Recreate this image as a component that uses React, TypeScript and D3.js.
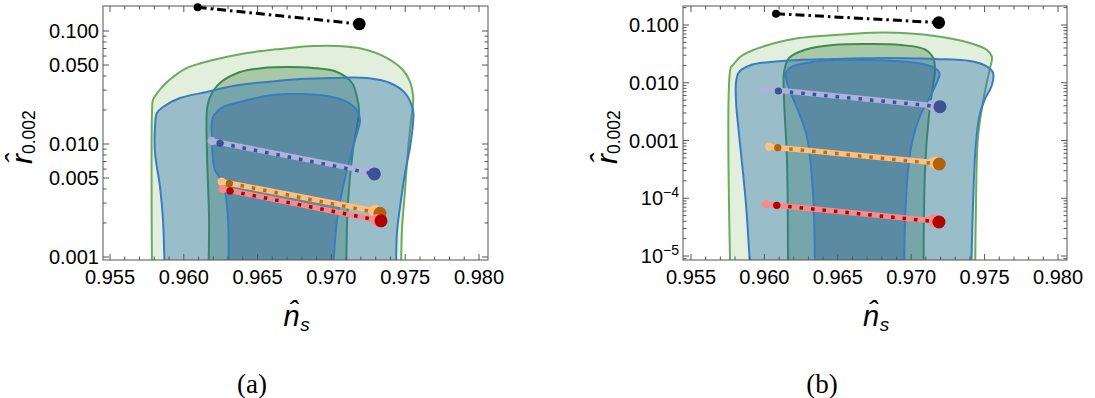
import React from "react";
import * as d3 from "d3";

// ---------- axis ticks ----------
const xMajor = [0.955, 0.96, 0.965, 0.97, 0.975, 0.98];
const xMajorLabels = ["0.955", "0.960", "0.965", "0.970", "0.975", "0.980"];
const yMajorA = [0.001, 0.005, 0.01, 0.05, 0.1];
const yLabelsA = ["0.001", "0.005", "0.010", "0.050", "0.100"];
const yMajorB = [1e-5, 1e-4, 1e-3, 1e-2, 1e-1];
const yLabelsB: [string, string][] = [["10", "−5"], ["10", "−4"], ["0.001", ""], ["0.010", ""], ["0.100", ""]];

// ---------- contours: [n_s, log10 r], from bottom-left, over the top, to bottom-right ----------
const aOuterGreen: [number, number][] = [
  [0.95785, -3.3], [0.95785, -1.699], [0.95791, -1.611], [0.95825, -1.54], [0.95873, -1.469], [0.95927, -1.407],
  [0.96022, -1.327], [0.96198, -1.257], [0.96428, -1.195], [0.96652, -1.159], [0.96875, -1.133], [0.97038, -1.133],
  [0.97214, -1.159], [0.97377, -1.239], [0.97485, -1.345], [0.97533, -1.451], [0.97553, -1.566], [0.97553, -1.655],
  [0.9754, -1.788], [0.97519, -2.053], [0.97499, -2.407], [0.97478, -2.761], [0.97472, -3.3],
];
const aInnerGreen: [number, number][] = [
  [0.96164, -3.3], [0.96171, -2.673], [0.96157, -2.08], [0.96157, -1.699], [0.96178, -1.584], [0.96245, -1.46],
  [0.96381, -1.363], [0.96537, -1.327], [0.96699, -1.319], [0.96875, -1.327], [0.97038, -1.363], [0.9714, -1.46],
  [0.97173, -1.584], [0.97187, -1.699], [0.97173, -1.85], [0.97146, -2.053], [0.97112, -2.522], [0.97099, -3.3],
];
const aOuterBlue: [number, number][] = [
  [0.95873, -3.3], [0.95859, -2.673], [0.95839, -2.381], [0.95805, -2.08], [0.95805, -1.85], [0.95818, -1.726],
  [0.95859, -1.673], [0.95974, -1.593], [0.96157, -1.54], [0.96333, -1.487], [0.96564, -1.451], [0.96787, -1.425],
  [0.97011, -1.416], [0.97241, -1.416], [0.97397, -1.46], [0.97499, -1.549], [0.97553, -1.699], [0.97553, -1.814],
  [0.97533, -2.027], [0.97499, -2.257], [0.97465, -2.558], [0.97444, -2.788], [0.97438, -3.3],
];
const aInnerBlue: [number, number][] = [
  [0.96299, -3.3], [0.96299, -2.646], [0.96266, -2.345], [0.96211, -2.23], [0.96191, -1.938], [0.96198, -1.761],
  [0.96266, -1.673], [0.96381, -1.628], [0.96604, -1.566], [0.96787, -1.557], [0.9697, -1.575], [0.97106, -1.628],
  [0.9718, -1.717], [0.97194, -1.788], [0.97146, -2.027], [0.97079, -2.381], [0.97038, -2.673], [0.97004, -3.3],
];

const bOuterGreen: [number, number][] = [
  [0.9577, -5.5], [0.9577, -1.745], [0.95786, -1.693], [0.95834, -1.554], [0.95909, -1.45], [0.96072, -1.312],
  [0.96236, -1.225], [0.96583, -1.156], [0.96815, -1.13], [0.97162, -1.19], [0.97401, -1.312], [0.97516, -1.433],
  [0.9755, -1.554], [0.97537, -1.745], [0.97516, -1.987], [0.97489, -2.333], [0.97455, -2.939], [0.97441, -4.117],
  [0.97435, -5.5],
];
const bInnerGreen: [number, number][] = [
  [0.96161, -5.5], [0.96154, -3.338], [0.96134, -2.299], [0.96134, -1.814], [0.96168, -1.571], [0.96283, -1.424],
  [0.96467, -1.346], [0.96699, -1.329], [0.96931, -1.346], [0.97094, -1.424], [0.97149, -1.571], [0.97162, -1.745],
  [0.97149, -2.039], [0.97121, -2.558], [0.97094, -3.511], [0.97084, -5.5],
];
const bOuterBlue: [number, number][] = [
  [0.95909, -5.5], [0.95875, -4.117], [0.95841, -3.234], [0.95817, -2.645], [0.95807, -2.333], [0.95807, -1.987],
  [0.95827, -1.814], [0.95909, -1.693], [0.9612, -1.623], [0.96467, -1.589], [0.96815, -1.571], [0.97162, -1.589],
  [0.97401, -1.623], [0.97503, -1.701], [0.97557, -1.823], [0.9755, -2.039], [0.97503, -2.281], [0.97469, -2.524],
  [0.97441, -3.043], [0.97421, -4.117], [0.97407, -5.5],
];
const bInnerBlue: [number, number][] = [
  [0.96345, -5.5], [0.96331, -3.909], [0.9629, -2.939], [0.96236, -2.524], [0.96188, -2.229], [0.96154, -1.987],
  [0.96147, -1.831], [0.96188, -1.72], [0.96352, -1.63], [0.96583, -1.601], [0.96815, -1.613], [0.97046, -1.658],
  [0.97162, -1.745], [0.97193, -1.838], [0.97176, -1.987], [0.97121, -2.281], [0.9706, -2.576], [0.97005, -3.043],
  [0.96978, -3.528], [0.96958, -4.411], [0.96951, -5.5],
];

// ---------- model predictions: [n_s, r] start (small dot) -> end (big dot) ----------
const aBlack: [number, number][] = [[0.96094, 0.162], [0.97189, 0.1153]];
const aBlueLight: [number, number][] = [[0.96189, 0.01064], [0.97257, 0.00569]];
const aBlueDark: [number, number][] = [[0.96245, 0.01014], [0.97291, 0.00543]];
const aOrangeLight: [number, number][] = [[0.96257, 0.00464], [0.97295, 0.00255]];
const aOrangeDark: [number, number][] = [[0.96308, 0.00449], [0.97329, 0.00244]];
const aRedLight: [number, number][] = [[0.96264, 0.004], [0.97307, 0.00212]];
const aRedDark: [number, number][] = [[0.96313, 0.00384], [0.97336, 0.00209]];

const bBlack: [number, number][] = [[0.96079, 0.157], [0.97188, 0.11]];
const bBlueLight: [number, number][] = [[0.96011, 0.0078], [0.97151, 0.00401]];
const bBlueDark: [number, number][] = [[0.96095, 0.0072], [0.97196, 0.00385]];
const bOrangeLight: [number, number][] = [[0.96033, 7.8e-4], [0.97162, 4.13e-4]];
const bOrangeDark: [number, number][] = [[0.96091, 7.5e-4], [0.97191, 3.92e-4]];
const bRedLight: [number, number][] = [[0.96011, 7.9e-5], [0.97151, 4.08e-5]];
const bRedDark: [number, number][] = [[0.96084, 7.55e-5], [0.97189, 3.88e-5]];

const COLORS = {
  blueLight: "#adb2da", blueDark: "#3d5197",
  orangeLight: "#fdc07f", orangeDark: "#b5600a", orangeDot: "#c46a0c",
  redLight: "#f78b8b", redDark: "#b30000",
};

const FONT = "'Liberation Sans', Arial, Helvetica, sans-serif";

type PanelCfg = {
  id: string;
  frame: [number, number, number, number];
  xr: [number, number];
  yd: [number, number];
  yr: [number, number];
  yMajor: number[];
  yLabels: [string, string][];
  contours: [number, number][][];
  black: [number, number][];
  pairs: { light: [number, number][]; dark: [number, number][]; lc: string; dc: string; dotc: string }[];
  yTitleX: number;
  caption: string;
  capX: number;
};

function Panel({ p }: { p: PanelCfg }) {
  const x = d3.scaleLinear().domain([0.955, 0.98]).range(p.xr);
  const y = d3.scaleLog().domain(p.yd).range(p.yr);
  const [fx0, fy0, fx1, fy1] = p.frame;
  const line = d3
    .line<[number, number]>()
    .x((d) => x(d[0]))
    .y((d) => y(Math.pow(10, d[1])))
    .curve(d3.curveCatmullRom.alpha(0.5));
  const path = (c: [number, number][]) => (line(c) || "") + "Z";
  const clipId = "clip-" + p.id;

  const yLo = y.invert(fy1), yHi = y.invert(fy0);
  const yTicks: { v: number; major: boolean }[] = [];
  for (let e = Math.floor(Math.log10(yLo)); e <= Math.ceil(Math.log10(yHi)); e++) {
    for (let m = 1; m <= 9; m++) {
      const v = m * Math.pow(10, e);
      if (v >= yLo && v <= yHi) {
        const major = p.yMajor.some((t) => Math.abs(t - v) / t < 1e-6);
        yTicks.push({ v, major });
      }
    }
  }
  const xTicks: { v: number; major: boolean }[] = [];
  for (let i = 0; i <= 25; i++) {
    const v = 0.955 + i * 0.001;
    xTicks.push({ v, major: i % 5 === 0 });
  }

  const fills = [
    { fill: "rgba(150,196,128,0.27)", stroke: "#6cab5c" },
    { fill: "rgba(62,132,66,0.36)", stroke: "#3f8a4c" },
    { fill: "rgba(52,118,176,0.42)", stroke: "#3a7cc2" },
    { fill: "rgba(38,92,150,0.36)", stroke: "#3a7cc2" },
  ];
  const seg = (pts: [number, number][]) =>
    `M${x(pts[0][0])},${y(pts[0][1])}L${x(pts[1][0])},${y(pts[1][1])}`;

  const cx = (fx0 + fx1) / 2;
  const cy = (fy0 + fy1) / 2;
  return (
    <g>
      <defs>
        <clipPath id={clipId}>
          <rect x={fx0} y={fy0} width={fx1 - fx0} height={fy1 - fy0} />
        </clipPath>
      </defs>
      <g clipPath={`url(#${clipId})`}>
        {p.contours.map((c, i) => (
          <path key={i} d={path(c)} fill={fills[i].fill} stroke={fills[i].stroke} strokeWidth={2} strokeLinejoin="round" />
        ))}
      </g>
      {/* frame */}
      <rect x={fx0} y={fy0} width={fx1 - fx0} height={fy1 - fy0} fill="none" stroke="#555" strokeWidth={1} />
      {xTicks.map((t, i) => {
        const xx = x(t.v);
        const L = t.major ? 6 : 3.5;
        return (
          <g key={"xt" + i} stroke="#555" strokeWidth={1}>
            <line x1={xx} x2={xx} y1={fy1} y2={fy1 - L} />
            <line x1={xx} x2={xx} y1={fy0} y2={fy0 + L} />
          </g>
        );
      })}
      {yTicks.map((t, i) => {
        const yy = y(t.v);
        const L = t.major ? 6 : 3.5;
        return (
          <g key={"yt" + i} stroke="#555" strokeWidth={1}>
            <line x1={fx0} x2={fx0 + L} y1={yy} y2={yy} />
            <line x1={fx1} x2={fx1 - L} y1={yy} y2={yy} />
          </g>
        );
      })}
      {/* model lines and points */}
      <path d={seg(p.black)} stroke="#000" strokeWidth={3} strokeDasharray="9 4 2.5 4" fill="none" />
      <circle cx={x(p.black[0][0])} cy={y(p.black[0][1])} r={4} fill="#000" />
      <circle cx={x(p.black[1][0])} cy={y(p.black[1][1])} r={6.3} fill="#000" />
      {p.pairs.map((s, i) => (
        <g key={i}>
          <path d={seg(s.light)} stroke={s.lc} strokeWidth={5.5} fill="none" />
          <circle cx={x(s.light[0][0])} cy={y(s.light[0][1])} r={4.2} fill={s.lc} />
          <circle cx={x(s.light[1][0])} cy={y(s.light[1][1])} r={6.2} fill={s.lc} />
          <path d={seg(s.dark)} stroke={s.dotc} strokeWidth={3.5} strokeDasharray="3.5 8" fill="none" />
          <circle cx={x(s.dark[0][0])} cy={y(s.dark[0][1])} r={3.6} fill={s.dc} />
          <circle cx={x(s.dark[1][0])} cy={y(s.dark[1][1])} r={6.5} fill={s.dc} />
        </g>
      ))}
      {xMajor.map((v, i) => (
        <text key={"xl" + i} x={x(v)} y={284} textAnchor="middle" fontFamily={FONT} fontSize={20} fill="#000">
          {xMajorLabels[i]}
        </text>
      ))}
      {p.yMajor.map((v, i) => (
        <text key={"yl" + i} x={fx0 - 4} y={y(v) + 7} textAnchor="end" fontFamily={FONT} fontSize={20} fill="#000">
          {p.yLabels[i][0]}
          {p.yLabels[i][1] ? (
            <tspan dy={-8} fontSize={14}>{p.yLabels[i][1]}</tspan>
          ) : null}
        </text>
      ))}
      {/* x title: n-hat_s */}
      <text x={cx - 12} y={326} fontFamily={FONT} fill="#000">
        <tspan fontSize={29} fontStyle="italic">{"n\u0302"}</tspan>
        <tspan fontSize={19} fontStyle="italic" dx={0.5} dy={5}>s</tspan>
      </text>
      {/* y title: r-hat_0.002 */}
      <g transform={`translate(${p.yTitleX},${cy}) rotate(-90)`}>
        <text x={-31} y={10} fontFamily={FONT} fill="#000">
          <tspan fontSize={30} fontStyle="italic">{"r\u0302"}</tspan>
          <tspan fontSize={17.5} dx={0} dy={3}>0.002</tspan>
        </text>
      </g>
      <text x={p.capX} y={393} textAnchor="middle" fontFamily="'Liberation Serif', 'Times New Roman', serif" fontSize={27} fill="#000">
        {p.caption}
      </text>
    </g>
  );
}

export default function App() {
  const panels: PanelCfg[] = [
    {
      id: "a",
      frame: [103, 6, 488, 260],
      xr: [110, 479],
      yd: [0.001, 0.1],
      yr: [257, 31],
      yMajor: yMajorA,
      yLabels: yLabelsA.map((s) => [s, ""] as [string, string]),
      contours: [aOuterGreen, aInnerGreen, aOuterBlue, aInnerBlue],
      black: aBlack,
      pairs: [
        { light: aBlueLight, dark: aBlueDark, lc: COLORS.blueLight, dc: COLORS.blueDark, dotc: COLORS.blueDark },
        { light: aOrangeLight, dark: aOrangeDark, lc: COLORS.orangeLight, dc: COLORS.orangeDark, dotc: COLORS.orangeDot },
        { light: aRedLight, dark: aRedDark, lc: COLORS.redLight, dc: COLORS.redDark, dotc: COLORS.redDark },
      ],
      yTitleX: 22,
      caption: "(a)",
      capX: 252,
    },
    {
      id: "b",
      frame: [683, 6, 1067, 260],
      xr: [691, 1058],
      yd: [1e-5, 0.1],
      yr: [256, 25],
      yMajor: yMajorB,
      yLabels: yLabelsB,
      contours: [bOuterGreen, bInnerGreen, bOuterBlue, bInnerBlue],
      black: bBlack,
      pairs: [
        { light: bBlueLight, dark: bBlueDark, lc: COLORS.blueLight, dc: COLORS.blueDark, dotc: COLORS.blueDark },
        { light: bOrangeLight, dark: bOrangeDark, lc: COLORS.orangeLight, dc: COLORS.orangeDark, dotc: COLORS.orangeDot },
        { light: bRedLight, dark: bRedDark, lc: COLORS.redLight, dc: COLORS.redDark, dotc: COLORS.redDark },
      ],
      yTitleX: 607,
      caption: "(b)",
      capX: 822,
    },
  ];
  return (
    <svg width={1095} height={398} viewBox="0 0 1095 398" style={{ position: "absolute", left: 0, top: 0, background: "#fff" }}>
      <rect x={0} y={0} width={1095} height={398} fill="#fff" />
      {panels.map((p) => (
        <Panel key={p.id} p={p} />
      ))}
    </svg>
  );
}
